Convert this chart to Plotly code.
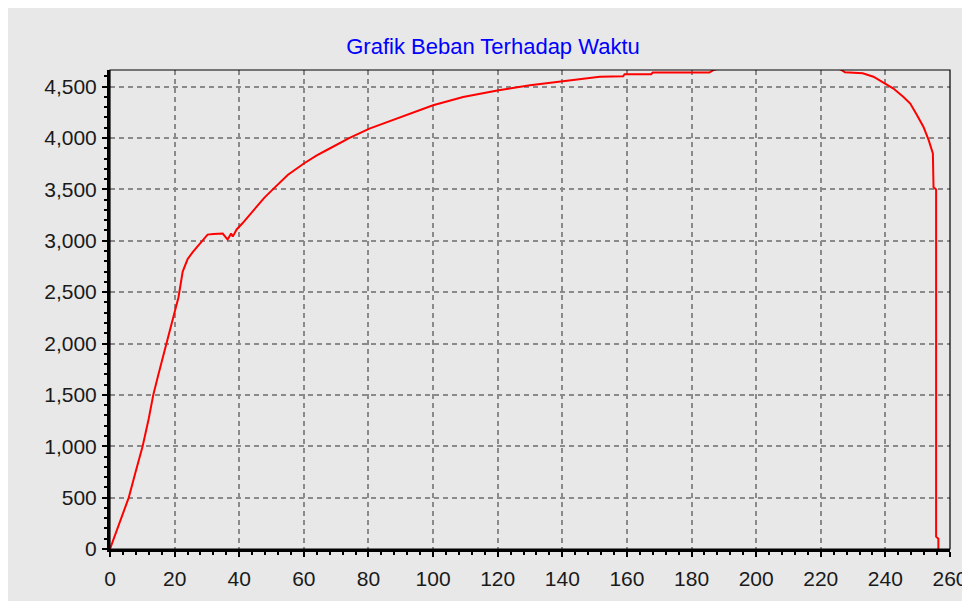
import plotly.graph_objects as go

# ---- data ----
waktu = [0, 2, 4, 5.8, 8, 10.1, 12, 13.4, 15, 17.4, 19.5, 21.2, 22.5, 24, 25.6, 27.5,
         30.2, 32, 34.9, 36.4, 37.5, 38, 39.2, 41, 43.2, 47.8, 50.4, 55, 60, 64, 68,
         74, 80.3, 88.6, 97.9, 100, 109.3, 120.3, 130, 140, 149.6, 151.6, 158.8,
         159.3, 167.5, 168, 185.5, 187, 190, 200, 210, 220, 226, 227.5, 233, 236.3,
         240, 242.5, 245.6, 247.7, 249.8, 251.8, 253.4, 254.7, 254.9, 255.7, 255.7,
         256.4, 256.4]
beban = [0, 170, 340, 500, 760, 1000, 1270, 1500, 1700, 2000, 2260, 2450, 2700, 2820,
         2890, 2960, 3060, 3065, 3070, 3012, 3070, 3040, 3110, 3170, 3250, 3420, 3500,
         3640, 3752, 3830, 3898, 4000, 4092, 4190, 4297, 4319, 4400, 4465, 4514, 4555,
         4589, 4597, 4600, 4621, 4621, 4637, 4637, 4665, 4685, 4695, 4700, 4695, 4670,
         4640, 4630, 4597, 4530, 4481, 4400, 4335, 4222, 4108, 3979, 3849, 3520, 3500,
         120, 100, 0]

x_ticks = list(range(0, 261, 20))
y_ticks = list(range(0, 4501, 500))

judul = "Grafik Beban Terhadap Waktu"

BG = "#E8E8E8"
GRID = "#8a8a8a"
FONT = "Liberation Sans, Arial, sans-serif"

# the page adds an 8px body margin on every side
W, H = 954, 593

fig = go.Figure()
fig.add_trace(go.Scatter(x=waktu, y=beban, mode="lines",
                         line=dict(color="#FF0000", width=2), showlegend=False))

axis_common = dict(
    showgrid=True, gridcolor=GRID, gridwidth=2, griddash="5px,4px",
    showline=True, linecolor="black", linewidth=3, mirror=False,
    ticks="outside", ticklen=5, tickwidth=1.5, tickcolor="black",
    zeroline=False, automargin=False,
    tickfont=dict(family=FONT, size=21, color="#1a1a1a"),
)

fig.update_layout(
    width=W, height=H, autosize=False,
    margin=dict(l=102, r=12, t=62, b=52),
    paper_bgcolor=BG, plot_bgcolor=BG,
    title=dict(text=judul, x=(493 - 8) / W, xanchor="center", xref="container",
               y=1 - 38 / H, yanchor="middle", yref="container",
               font=dict(family=FONT, size=22, color="#0000FF")),
    xaxis=dict(range=[0, 260], tickvals=x_ticks, ticklabelstandoff=4,
               ticklabeloverflow="allow",
               minor=dict(dtick=4, ticks="outside", ticklen=3, tickcolor="black", showgrid=False),
               **axis_common),
    yaxis=dict(range=[0, 4662], tickvals=y_ticks, tickformat=",d", ticklabelstandoff=1,
               minor=dict(dtick=100, ticks="outside", ticklen=3, tickcolor="black", showgrid=False),
               **axis_common),
    shapes=[
        dict(type="rect", xref="x domain", yref="y domain", x0=0, x1=1, y0=0, y1=1,
             line=dict(color="black", width=1.2), fillcolor="rgba(0,0,0,0)", layer="above"),
    ],
)

# let the last x tick label ("260") spill past the figure edge as in the reference
post = (
    "var gd=document.getElementById('{plot_id}');"
    "gd.style.setProperty('overflow','visible','important');"
    "gd.querySelectorAll('svg.main-svg, .svg-container, .plot-container, .plotly')"
    ".forEach(function(s){s.style.setProperty('overflow','visible','important');});"
    "document.body.style.overflow='visible';"
)

fig.write_html("out.html", config={"displayModeBar": False}, post_script=post)
